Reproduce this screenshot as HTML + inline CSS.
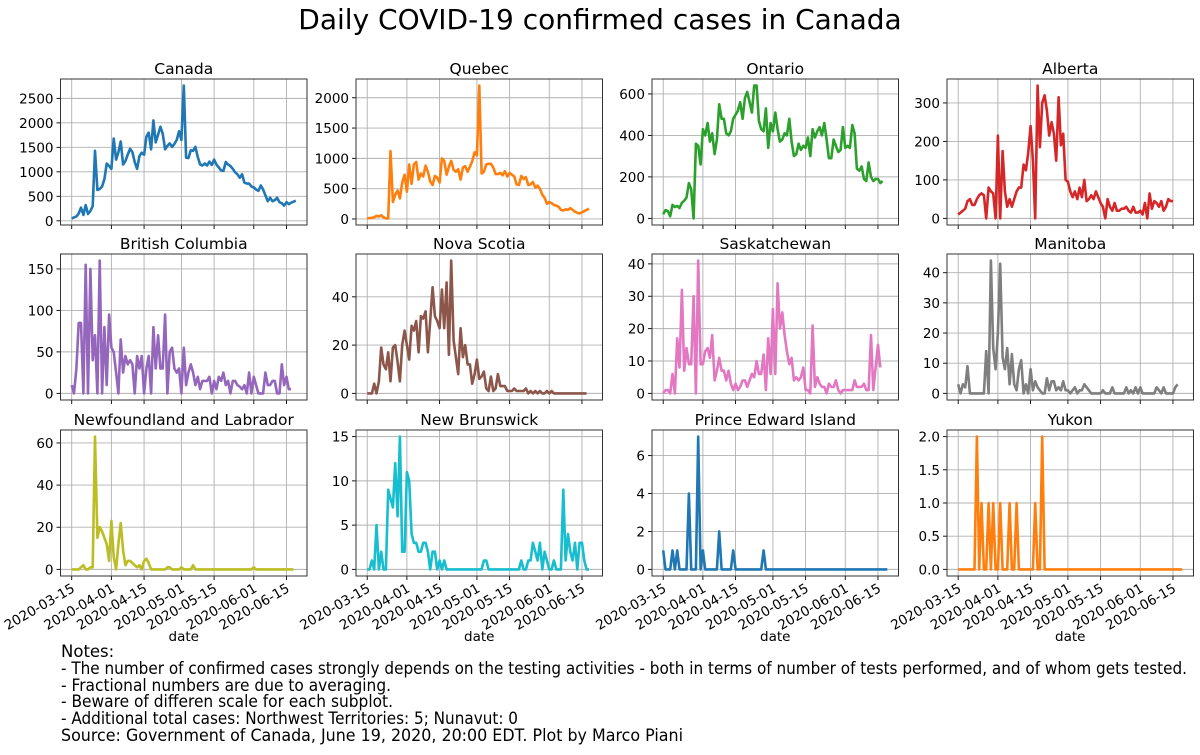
<!DOCTYPE html>
<html><head><meta charset="utf-8"><style>
html,body{margin:0;padding:0;background:#fff;}
svg text{font-family:"DejaVu Sans","Liberation Sans",sans-serif;fill:#000;}
</style></head><body>
<svg id="fig" width="1200" height="750" viewBox="0 0 1200 750" xmlns="http://www.w3.org/2000/svg">
<rect width="1200" height="750" fill="#fff"/>
<text x="600" y="29" font-size="28" text-anchor="middle">Daily COVID-19 confirmed cases in Canada</text>
<g id="panels"></g>
<g font-size="16.5">
<text x="61" y="657">Notes:</text>
<text x="61" y="674" textLength="1126" lengthAdjust="spacingAndGlyphs">- The number of confirmed cases strongly depends on the testing activities - both in terms of number of tests performed, and of whom gets tested.</text>
<text x="61" y="691" textLength="330" lengthAdjust="spacingAndGlyphs">- Fractional numbers are due to averaging.</text>
<text x="61" y="707" textLength="332" lengthAdjust="spacingAndGlyphs">- Beware of differen scale for each subplot.</text>
<text x="61" y="724" textLength="457" lengthAdjust="spacingAndGlyphs">- Additional total cases: Northwest Territories: 5; Nunavut: 0</text>
<text x="61" y="741" textLength="622" lengthAdjust="spacingAndGlyphs">Source: Government of Canada, June 19, 2020, 20:00 EDT. Plot by Marco Piani</text>
</g>
</svg>
<script>
const regions = ["Canada","Quebec","Ontario","Alberta","British Columbia","Nova Scotia","Saskatchewan","Manitoba","Newfoundland and Labrador","New Brunswick","Prince Edward Island","Yukon"];
const dateTickLabels = ["2020-03-15","2020-04-01","2020-04-15","2020-05-01","2020-05-15","2020-06-01","2020-06-15"];
const dateTickDays = [0,17,31,47,61,78,92];
const canada = [50,70,90,150,270,120,320,140,200,300,1430,630,650,700,850,1170,1120,1060,1680,1250,1400,1620,1150,1220,1350,1470,1400,1200,1060,1320,1390,1350,1720,1800,1460,2050,1600,1760,1920,1780,1460,1530,1580,1510,1570,1650,1830,1650,2760,1290,1280,1440,1430,1510,1300,1150,1130,1170,1130,1210,1140,1250,1150,1090,1030,1020,1200,1150,1120,1060,990,950,880,950,780,760,760,700,680,640,610,720,640,520,400,470,400,420,470,380,360,310,380,340,370,390,410];
const quebec = [10,15,20,30,50,40,60,30,10,10,1120,280,400,470,340,600,730,450,900,580,900,940,650,750,700,880,780,620,560,710,680,600,1000,960,730,860,960,810,780,820,650,850,870,780,860,950,1100,1050,2200,750,780,900,910,910,850,740,740,760,720,790,700,760,730,700,570,560,710,660,690,560,570,610,520,550,500,400,350,250,280,260,230,220,200,150,140,160,150,180,150,120,100,90,110,130,150,170];
const ontario = [20,40,35,10,65,55,60,50,75,85,100,170,140,0,360,350,260,430,400,460,370,410,310,380,550,480,480,410,400,420,480,500,520,560,480,580,610,560,510,640,640,470,430,420,530,340,460,420,510,430,370,380,410,400,480,370,300,310,360,330,350,340,390,300,430,390,420,440,400,460,380,290,290,380,350,320,330,440,340,350,340,450,410,240,230,250,190,180,270,200,180,190,190,170,180];
const alberta = [10,15,20,25,45,50,35,35,50,60,65,60,0,80,70,65,0,215,0,175,70,30,50,30,50,70,80,80,140,125,170,240,150,0,345,185,300,320,280,215,250,220,150,315,190,220,100,95,70,55,70,50,80,55,100,45,50,60,50,70,55,40,30,0,50,30,20,40,20,20,25,25,30,20,15,30,15,15,20,10,40,0,65,25,45,40,30,45,20,30,50,45,45];
const britishColumbia = [10,0,30,85,85,0,155,0,150,40,70,0,160,0,80,10,95,55,50,25,0,65,25,45,35,40,35,0,45,30,45,0,30,45,0,80,30,70,30,30,95,0,50,55,30,25,30,0,55,10,25,35,25,10,20,5,15,15,15,20,0,15,5,20,15,25,10,15,0,15,15,10,8,5,10,0,25,0,20,10,0,0,0,25,10,10,15,15,0,0,35,10,20,5,5];
const novaScotia = [0,0,0,4,0,5,19,12,10,17,5,19,20,13,5,20,26,20,14,28,26,30,17,32,31,34,17,30,44,32,30,27,43,27,46,16,55,22,15,8,27,15,20,12,12,4,8,14,6,7,9,2,1,7,1,2,8,3,3,3,1,1,1,2,1,1,1,1,2,0,1,0,1,0,1,0,0,1,0,1,0,0,0,0,0,0,0,0,0,0,0,0,0,0,0];
const saskatchewan = [0,1,1,0,6,0,17,8,32,7,14,9,9,30,0,41,9,9,13,14,11,18,4,7,11,7,7,4,7,3,1,3,1,2,4,4,2,4,6,5,10,6,6,12,1,17,6,26,6,34,20,25,18,13,9,11,4,5,4,5,8,1,1,0,21,2,5,3,2,2,0,3,2,2,4,1,0,1,1,1,1,1,4,2,2,2,3,1,1,18,1,8,15,8];
const manitoba = [3,0,3,2,9,0,0,0,0,0,0,0,14,0,44,15,8,20,43,12,8,15,3,13,3,1,8,11,0,3,0,8,1,4,2,1,0,0,5,1,4,4,1,2,1,4,1,1,0,1,2,0,1,1,3,2,1,0,0,0,0,0,1,0,0,0,2,0,0,0,0,0,2,0,1,0,2,0,2,0,0,0,0,0,0,2,1,0,2,0,0,0,0,2,3];
const newfoundland = [0,0,0,0,1,2,0,0,1,1,63,15,20,18,15,12,4,23,6,0,12,22,9,2,4,4,3,2,1,2,0,4,5,3,0,0,0,0,0,0,0,1,1,0,0,0,0,1,0,0,0,0,2,0,0,0,0,0,0,0,0,0,0,0,0,0,0,0,0,0,0,0,0,0,0,0,0,0,1,0,0,0,0,0,0,0,0,0,0,0,0,0,0,0,0,0];
const newBrunswick = [0,0,1,0,5,0,2,0,0,9,8,7,12,6,15,2,2,11,10,4,3,3,2,2,3,3,2,0,2,2,0,1,0,1,0,0,0,0,0,0,0,0,0,0,0,0,0,0,0,0,1,1,0,0,0,0,0,0,0,0,0,0,0,0,0,0,1,0,0,1,1,3,2,1,3,0,2,1,0,0,1,0,0,0,9,1,4,2,1,3,0,3,3,1,0,0];
const pei = [1,0,0,0,1,0,1,0,0,0,0,4,0,0,0,7,0,1,0,0,0,0,0,0,2,0,0,0,0,0,1,0,0,0,0,0,0,0,0,0,0,0,0,1,0,0,0,0,0,0,0,0,0,0,0,0,0,0,0,0,0,0,0,0,0,0,0,0,0,0,0,0,0,0,0,0,0,0,0,0,0,0,0,0,0,0,0,0,0,0,0,0,0,0,0,0,0];
const yukon = [0,0,0,0,0,0,0,0,2,0,1,0,0,1,0,1,0,0,1,0,0,0,1,0,0,1,0,0,0,0,0,0,0,1,0,0,2,0,0,0,0,0,0,0,0,0,0,0,0,0,0,0,0,0,0,0,0,0,0,0,0,0,0,0,0,0,0,0,0,0,0,0,0,0,0,0,0,0,0,0,0,0,0,0,0,0,0,0,0,0,0,0,0,0,0,0,0];
const yTicks = [[0,500,1000,1500,2000,2500],[0,500,1000,1500,2000],[0,200,400,600],[0,100,200,300],[0,50,100,150],[0,20,40],[0,10,20,30,40],[0,10,20,30,40],[0,20,40,60],[0,5,10,15],[0,2,4,6],[0,0.5,1,1.5,2]];
const seriesList = [canada,quebec,ontario,alberta,britishColumbia,novaScotia,saskatchewan,manitoba,newfoundland,newBrunswick,pei,yukon];
const colors = ["#1f77b4","#ff7f0e","#2ca02c","#d62728","#9467bd","#8c564b","#e377c2","#7f7f7f","#bcbd22","#17becf","#1f77b4","#ff7f0e"];

const NS="http://www.w3.org/2000/svg";
const root=document.getElementById('panels');
function mk(tag,attrs,parent){const e=document.createElementNS(NS,tag);for(const k in attrs)e.setAttribute(k,attrs[k]);(parent||root).appendChild(e);return e;}
const colLeft=[60.5,356,652,947], rowTop=[79,254,430], W=246.5, H=146;
const dMin=-4.8, dMax=100.8;
function slug(s){return s.toLowerCase().replace(/[^a-z]+/g,'-');}
regions.forEach((name,i)=>{
  const r=Math.floor(i/4), c=i%4, L=colLeft[c], T=rowTop[r];
  const data=seriesList[i];
  const mn=Math.min(...data), mx=Math.max(...data), pad=(mx-mn)*0.05;
  const y0=mn-pad, y1=mx+pad;
  const X=d=>L+(d-dMin)/(dMax-dMin)*W;
  const Y=v=>T+H-(v-y0)/(y1-y0)*H;
  const g=mk('g',{});
  
  
  const t=mk('text',{x:L+W/2,y:T-5,'font-size':15.5,'text-anchor':'middle'},g);t.textContent=name;
  
  
  dateTickDays.forEach((d,k)=>{
    const x=X(d);
    mk('line',{x1:x,x2:x,y1:T,y2:T+H,stroke:'#b0b0b0','stroke-width':0.9},g);
    mk('line',{x1:x,x2:x,y1:T+H,y2:T+H+4,stroke:'#000','stroke-width':0.9},g);
    if(r===2){
      const tx=mk('text',{x:0,y:0,'font-size':13.5,'text-anchor':'end',transform:`translate(${x+4},${T+H+15}) rotate(-30)`},g);
      tx.textContent=dateTickLabels[k];
      
      
    }
  });
  yTicks[i].forEach(v=>{
    const y=Y(v);
    mk('line',{x1:L,x2:L+W,y1:y,y2:y,stroke:'#b0b0b0','stroke-width':0.9},g);
    mk('line',{x1:L-4,x2:L,y1:y,y2:y,stroke:'#000','stroke-width':0.9},g);
    const ty=mk('text',{x:L-7,y:y+5,'font-size':13.5,'text-anchor':'end'},g);
    ty.textContent=(i===11)?v.toFixed(1):String(v);
    
    
  });
  if(r===2){
    const xl=mk('text',{x:L+W/2,y:641,'font-size':13.5,'text-anchor':'middle'},g);xl.textContent='date';
    
    
  }
  const pts=data.map((v,d)=>X(d).toFixed(1)+','+Y(v).toFixed(1)).join(' ');
  const pl=mk('polyline',{points:pts,fill:'none',stroke:colors[i],'stroke-width':2.6,'stroke-linejoin':'round'},g);
  
  
  mk('rect',{x:L,y:T,width:W,height:H,fill:'none',stroke:'#333','stroke-width':1},g);
});
</script>
</body></html>
